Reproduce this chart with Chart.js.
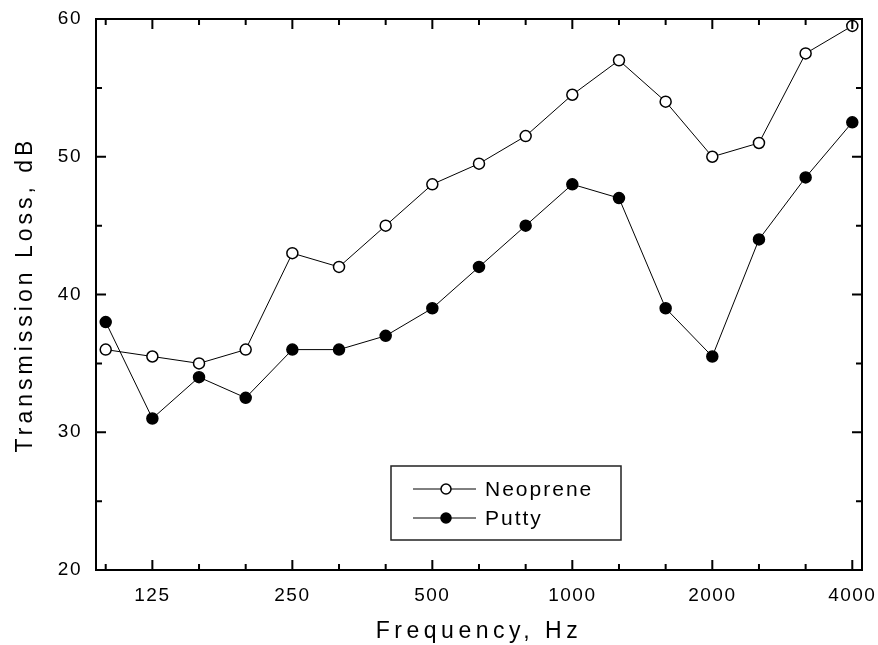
<!DOCTYPE html>
<html>
<head>
<meta charset="utf-8">
<script src="https://cdn.jsdelivr.net/npm/chart.js@4.4.1/dist/chart.umd.min.js"></script>
<style>
  html, body { margin: 0; padding: 0; background: #fff; }
  #wrap { width: 878px; height: 645px; position: relative; }
</style>
</head>
<body>
<div id="wrap"><canvas id="graph"></canvas></div>
<script>
// 1/3 octave bands
const bands = [100, 125, 160, 200, 250, 315, 400, 500, 630, 800, 1000, 1250, 1600, 2000, 2500, 3150, 4000];
const octaveLabels = [125, 250, 500, 1000, 2000, 4000];
const yTicks = [20, 25, 30, 35, 40, 45, 50, 55, 60];

// transmission loss, dB
const neoprene = [36, 35.5, 35, 36, 43, 42, 45, 48, 49.5, 51.5, 54.5, 57, 54, 50, 51, 57.5, 59.5];
const putty = [38, 31, 34, 32.5, 36, 36, 37, 39, 42, 45, 48, 47, 39, 35.5, 44, 48.5, 52.5];

const FONT = "'Liberation Sans', Arial, Helvetica, sans-serif";

const toPoints = (arr) => arr.map((v, i) => ({ x: i, y: v }));

// frame, inward ticks on all four sides, legend box
const framePlugin = {
  id: "frame",
  afterDraw(chart) {
    const { ctx, chartArea: a, scales } = chart;
    const x = scales.x;
    const y = scales.y;
    ctx.save();
    ctx.strokeStyle = "#000";
    ctx.lineWidth = 2;
    ctx.strokeRect(a.left, a.top, a.right - a.left, a.bottom - a.top);

    ctx.beginPath();
    bands.forEach((f, i) => {
      const px = x.getPixelForValue(i);
      const len = octaveLabels.includes(f) ? 10 : 6;
      ctx.moveTo(px, a.bottom);
      ctx.lineTo(px, a.bottom - len);
      ctx.moveTo(px, a.top);
      ctx.lineTo(px, a.top + len);
    });
    yTicks.forEach((v) => {
      const py = y.getPixelForValue(v);
      const len = v % 10 === 0 ? 10 : 6;
      ctx.moveTo(a.left, py);
      ctx.lineTo(a.left + len, py);
      ctx.moveTo(a.right, py);
      ctx.lineTo(a.right - len, py);
    });
    ctx.stroke();

    // legend
    const bx = 391, by = 466, bw = 230, bh = 74;
    ctx.lineWidth = 1.5;
    ctx.strokeStyle = "#222";
    ctx.strokeRect(bx, by, bw, bh);
    const rows = [489, 518];
    chart.data.datasets.forEach((ds, k) => {
      const ry = rows[k];
      ctx.beginPath();
      ctx.lineWidth = 1;
      ctx.strokeStyle = "#000";
      ctx.moveTo(413, ry);
      ctx.lineTo(476, ry);
      ctx.stroke();
      ctx.beginPath();
      ctx.arc(446, ry, 5, 0, Math.PI * 2);
      ctx.fillStyle = ds.pointBackgroundColor;
      ctx.fill();
      ctx.lineWidth = 1.5;
      ctx.stroke();
      ctx.fillStyle = "#000";
      ctx.font = "21px " + FONT;
      ctx.letterSpacing = "2px";
      ctx.textBaseline = "middle";
      ctx.textAlign = "left";
      ctx.fillText(ds.label, 485, ry + 1);
    });
    ctx.restore();
  },
};

// wider letter spacing for axis titles and tick labels
function spaced(scale, titleSpacing, labelSpacing) {
  const drawTitle = scale.drawTitle;
  const drawLabels = scale.drawLabels;
  scale.drawTitle = function (area) {
    this.ctx.save();
    this.ctx.letterSpacing = titleSpacing;
    drawTitle.call(this, area);
    this.ctx.restore();
  };
  scale.drawLabels = function (area) {
    this.ctx.save();
    this.ctx.letterSpacing = labelSpacing;
    drawLabels.call(this, area);
    this.ctx.restore();
  };
}

const graph = document.getElementById("graph");

const chart = new Chart(graph, {
  type: "scatter",
  data: {
    datasets: [
      {
        label: "Neoprene",
        data: toPoints(neoprene),
        showLine: true,
        borderColor: "#000",
        borderWidth: 1,
        pointRadius: 5.5,
        pointBorderWidth: 1.5,
        pointBackgroundColor: "#fff",
        pointBorderColor: "#000",
      },
      {
        label: "Putty",
        data: toPoints(putty),
        showLine: true,
        borderColor: "#000",
        borderWidth: 1,
        pointRadius: 5.5,
        pointBorderWidth: 1.5,
        pointBackgroundColor: "#000",
        pointBorderColor: "#000",
      },
    ],
  },
  options: {
    responsive: true,
    maintainAspectRatio: false,
    animation: false,
    layout: { padding: { top: 19, right: 16, left: 0, bottom: 0 } },
    scales: {
      x: {
        type: "linear",
        min: -0.208,
        max: 16.208,
        afterBuildTicks(scale) {
          scale.ticks = bands.map((_, i) => ({ value: i }));
        },
        afterFit(scale) {
          scale.height = 75;
          scale.paddingLeft = 0;
          scale.paddingRight = 0;
        },
        grid: { display: false, drawTicks: false },
        border: { display: false },
        ticks: {
          padding: 14,
          autoSkip: false,
          maxRotation: 0,
          color: "#000",
          font: { family: FONT, size: 19 },
          callback(value) {
            const f = bands[value];
            return octaveLabels.includes(f) ? String(f) : "";
          },
        },
        title: {
          display: true,
          text: "Frequency, Hz",
          color: "#000",
          font: { family: FONT, size: 23 },
          padding: { top: 0, bottom: 0 },
        },
      },
      y: {
        min: 20,
        max: 60,
        afterBuildTicks(scale) {
          scale.ticks = yTicks.map((v) => ({ value: v }));
        },
        afterFit(scale) {
          scale.width = 96;
          scale.paddingTop = 0;
          scale.paddingBottom = 0;
        },
        grid: { display: false, drawTicks: false },
        border: { display: false },
        ticks: {
          padding: 14,
          color: "#000",
          font: { family: FONT, size: 19 },
          callback(value) {
            return value % 10 === 0 ? String(value) : "";
          },
        },
        title: {
          display: true,
          text: "Transmission Loss, dB",
          color: "#000",
          font: { family: FONT, size: 23 },
          padding: { top: 12, bottom: 0 },
        },
      },
    },
    plugins: {
      legend: { display: false },
      tooltip: { enabled: false },
    },
  },
  plugins: [framePlugin],
});

spaced(chart.scales.x, "4.5px", "1.5px");
spaced(chart.scales.y, "4px", "1.5px");
chart.draw();
</script>
</body>
</html>
